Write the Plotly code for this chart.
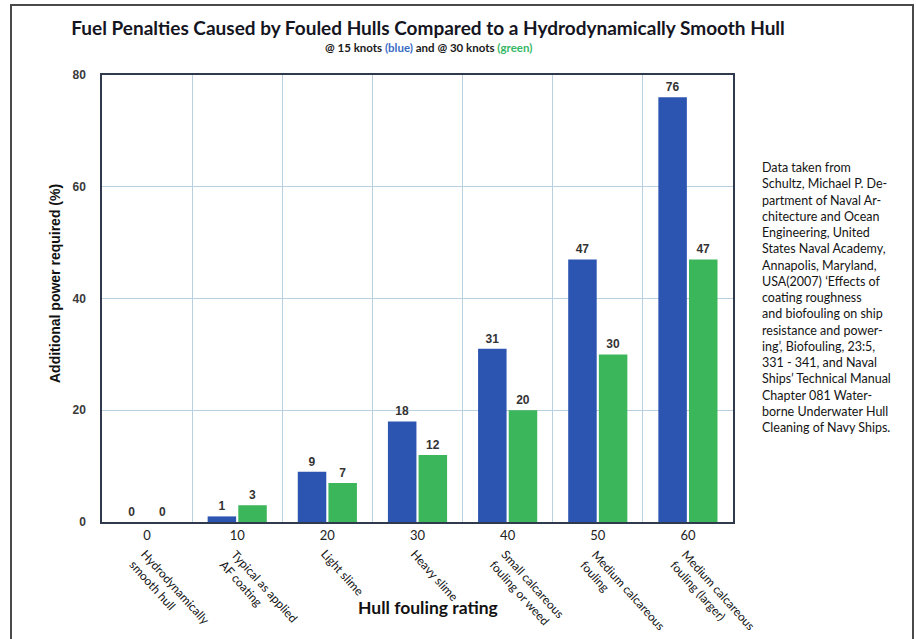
import math
import plotly.graph_objects as go

# Hull fouling ratings and their descriptions
ratings = ["0", "10", "20", "30", "40", "50", "60"]
descriptions = [
    "Hydrodynamically<br>smooth hull",
    "Typical as applied<br>AF coating",
    "Light slime",
    "Heavy slime",
    "Small calcareous<br>fouling or weed",
    "Medium calcareous<br>fouling",
    "Medium calcareous<br>fouling (larger)",
]

# Additional power required (%) at each speed
power_15_knots = [0, 1, 9, 18, 31, 47, 76]
power_30_knots = [0, 3, 7, 12, 20, 30, 47]

y_ticks = [0, 20, 40, 60, 80]

source_note = (
    "Data taken from<br>"
    "Schultz, Michael P. De-<br>"
    "partment of Naval Ar-<br>"
    "chitecture and Ocean<br>"
    "Engineering, United<br>"
    "States Naval Academy,<br>"
    "Annapolis, Maryland,<br>"
    "USA(2007) \u2018Effects of<br>"
    "coating roughness<br>"
    "and biofouling on ship<br>"
    "resistance and power-<br>"
    "ing\u2019, Biofouling, 23:5,<br>"
    "331 - 341, and Naval<br>"
    "Ships\u2019 Technical Manual<br>"
    "Chapter 081 Water-<br>"
    "borne Underwater Hull<br>"
    "Cleaning of Navy Ships."
)

BLUE = "#2c55b1"
GREEN = "#3cb65b"
AXIS_DARK = "#2f3b4c"
GRID = "#b9d0e0"
SANS = "Liberation Sans, Arial, sans-serif"
HUMANIST = "Lato, Open Sans, sans-serif"

W, H = 917, 639
M_L, M_R, M_T, M_B = 102, 184, 75, 117
plot_w = W - M_L - M_R
plot_h = H - M_T - M_B


def px_x(px):
    """Horizontal page pixel -> paper coordinate."""
    return (px - M_L) / plot_w


def px_y(px):
    """Vertical page pixel (from top) -> paper coordinate."""
    return (H - M_B - px) / plot_h


fig = go.Figure()

for values, name, color in [(power_15_knots, "15 knots", BLUE),
                            (power_30_knots, "30 knots", GREEN)]:
    fig.add_trace(go.Bar(
        x=list(range(len(ratings))), y=values, name=name,
        marker=dict(color=color, line=dict(width=0)),
        text=values, textposition="outside", cliponaxis=False,
        textfont=dict(family=SANS, size=12, color="#333333", weight="bold"),
    ))

annotations = []

# rotated descriptions under each rating number
angle = 48
line_h = 1.3 * 12
for i, desc in enumerate(descriptions):
    n_lines = desc.count("<br>") + 1
    box_h = n_lines * line_h + 2
    annotations.append(dict(
        x=i, xref="x", y=0, yref="paper",
        text=desc, showarrow=False, textangle=angle, align="left",
        xanchor="left", yanchor="top",
        xshift=1 - box_h * math.sin(math.radians(angle)),
        yshift=-22,
        font=dict(family=HUMANIST, size=12, color="#151515"),
    ))

# axis titles
annotations.append(dict(
    x=px_x(428), xref="paper", y=px_y(607), yref="paper",
    text="Hull fouling rating", showarrow=False,
    xanchor="center", yanchor="middle",
    font=dict(family=HUMANIST, size=17.5, color="#111111", weight="bold"),
))
annotations.append(dict(
    x=px_x(55), xref="paper", y=px_y(283), yref="paper",
    text="Additional power required (%)", showarrow=False, textangle=-90,
    xanchor="center", yanchor="middle",
    font=dict(family=SANS, size=14, color="#111111", weight="bold"),
))

# subtitle
annotations.append(dict(
    x=px_x(428), xref="paper", y=px_y(48), yref="paper",
    text=("@ 15 knots <span style='color:#3a6cc6'>(blue)</span> and "
          "@ 30 knots <span style='color:#35b866'>(green)</span>"),
    showarrow=False, xanchor="center", yanchor="middle",
    font=dict(family=HUMANIST, size=11.5, color="#1a1a1a", weight="bold"),
))

# source note
annotations.append(dict(
    x=px_x(760), xref="paper", y=px_y(158), yref="paper",
    text=source_note, showarrow=False, align="left",
    xanchor="left", yanchor="top",
    font=dict(family=HUMANIST, size=12.5, color="#141414"),
))

fig.update_layout(
    width=W, height=H,
    margin=dict(l=M_L, r=M_R, t=M_T, b=M_B),
    paper_bgcolor="white", plot_bgcolor="white",
    showlegend=False,
    barmode="group", bargap=0.32, bargroupgap=0.07,
    title=dict(
        text="Fuel Penalties Caused by Fouled Hulls Compared to a Hydrodynamically Smooth Hull",
        x=428 / W, xanchor="center", y=1 - 28 / H, yanchor="middle",
        font=dict(family=HUMANIST, size=19, color="#15151f", weight="bold"),
    ),
    annotations=annotations,
    shapes=[dict(
        type="rect", xref="paper", yref="paper",
        x0=px_x(11), x1=px_x(913), y0=px_y(660), y1=px_y(5),
        line=dict(color="#4a4a4a", width=2), layer="below",
    )],
    xaxis=dict(
        type="category",
        tickmode="array", tickvals=list(range(len(ratings))), ticktext=ratings,
        tickson="boundaries", range=[-0.5, len(ratings) - 0.5],
        showgrid=True, gridcolor=GRID, gridwidth=1,
        showline=True, linecolor=AXIS_DARK, linewidth=2, mirror=True,
        ticks="outside", ticklen=6, tickcolor="rgba(0,0,0,0)",
        tickfont=dict(family=HUMANIST, size=13, color="#222222"),
        tickangle=0,
    ),
    yaxis=dict(
        range=[0, 80], tickmode="array", tickvals=y_ticks,
        showgrid=True, gridcolor=GRID, gridwidth=1,
        showline=True, linecolor=AXIS_DARK, linewidth=1.5, mirror=True,
        zeroline=False,
        ticks="outside", ticklen=12, tickcolor="rgba(0,0,0,0)",
        tickfont=dict(family=SANS, size=12, color="#3a3a3a", weight="bold"),
    ),
)

fig.write_html("out.html")
